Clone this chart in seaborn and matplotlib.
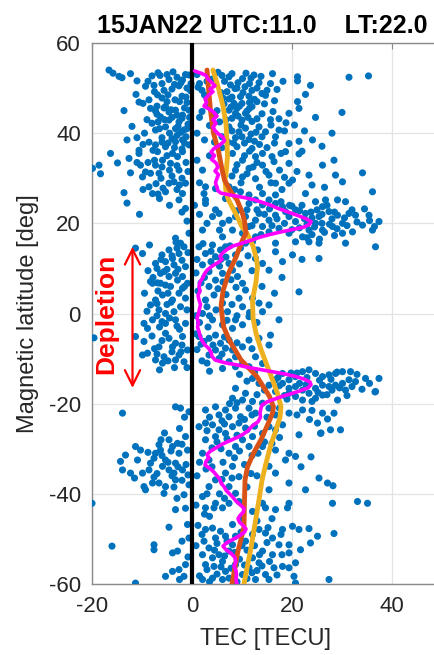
import numpy as np
import pandas as pd
import matplotlib
matplotlib.use("Agg")
import matplotlib.pyplot as plt
import seaborn as sns

# ---------------- data (TEC [TECU], magnetic latitude [deg]) ----------------
band_54_46 = [(-16.6,54.0),(-15.8,53.3),(-14.6,52.6),(-14.0,52.3),(-12.3,53.2),(-11.0,51.6),(-13.6,45.0),(-10.6,46.9),
    (-9.3,50.4),(-8.0,52.7),(-7.6,50.6),(-6.4,52.8),(-6.9,48.5),(-5.6,49.5),(-4.6,51.9),(-4.0,49.8),(-3.0,52.4),(-2.6,50.5),
    (-1.9,51.8),(-1.3,53.0),(-0.6,52.9),(-2.0,48.2),(-3.4,47.4),(-5.0,47.0),(-8.6,47.4),(-9.8,46.6),(-7.0,46.0),(-1.0,46.8),
    (-0.3,49.4),(-4.2,45.2),(1.5,51.0),(2.5,48.5),(7.4,52.5),(10.1,52.1),(7.7,50.7),(12.4,52.9),(13.4,51.2),(15.7,51.0),
    (16.1,53.2),(21.1,52.5),(21.1,51.6),(23.7,50.6),(31.4,52.4),(35.3,52.7),(8.6,49.9),(10.6,50.3),(12.0,49.5),(9.7,48.1),
    (11.4,48.2),(14.0,48.8),(14.7,48.4),(10.0,46.6),(12.0,45.9),(8.4,46.6),(7.4,47.6),(5.8,49.0),(6.4,46.5),(22.7,48.6),
    (21.1,47.0),(21.4,45.5),(17.0,49.7),(13.0,47.0),(11.0,44.9),(9.0,45.5),(4.0,52.0),(5.2,53.5),
    (-6.0,51.0),(-5.0,53.0),(-3.5,50.8),(-1.0,50.0),(1.0,53.0),(2.0,49.5),(6.5,51.5),(8.0,53.2),(9.2,51.2),(11.5,51.0),
    (13.0,50.0),(15.0,49.5),(8.0,48.0),(6.2,47.8),(12.5,47.5),(-2.5,47.0),(-6.0,47.8),(-7.5,49.2),(-1.5,45.6),(10.8,53.3),
    (16.5,47.2),(18.2,51.5),(-11.2,48.6),(-5.3,45.9),
    (-3.8,53.6),(-2.2,51.2),(-0.2,51.0),(1.2,50.2),(3.0,51.5),(6.0,52.8),(9.0,50.0),(11.8,52.2),(13.8,52.6),(7.0,49.2),
    (10.2,49.0),(-6.8,53.4),(-8.8,51.5),(-4.8,48.5),(-1.2,48.0),(14.5,46.5),(11.5,46.8),(7.8,45.8)]

band_46_36 = [(-8.3,45.5),(-7.3,44.9),(-5.6,45.6),(-4.6,44.7),(-3.3,45.1),(-1.9,44.0),(-0.6,45.1),(-6.3,43.6),(-4.6,42.9),
    (-2.6,42.5),(-5.3,41.4),(-3.3,41.0),(-1.6,40.7),(-8.0,42.2),(-7.3,40.7),(-3.0,39.5),(-8.6,38.0),(-10.6,36.2),(-7.3,37.4),
    (-5.3,37.0),(-3.3,38.1),(-1.9,38.5),(-0.6,37.4),(-11.0,39.0),(-13.0,38.5),(-9.5,40.0),(-6.0,39.0),(-2.0,36.5),(-12.0,41.5),
    (-0.8,42.0),(7.4,45.1),(8.7,44.4),(10.7,44.4),(8.0,43.3),(10.0,42.9),(12.0,42.6),(14.0,44.3),(15.7,43.0),(17.4,43.2),
    (13.4,41.4),(10.7,41.1),(9.4,40.3),(14.7,40.3),(17.4,40.7),(19.4,44.4),(24.7,43.5),(30.0,44.6),(7.4,41.4),(6.0,39.2),
    (8.7,39.0),(11.4,38.6),(14.0,39.2),(16.7,39.2),(19.4,37.7),(21.4,38.2),(24.1,38.5),(26.0,37.1),(3.5,41.7),(2.5,38.5),
    (4.5,44.0),(6.0,36.8),(9.0,37.0),(12.0,36.6),(15.0,36.8),(17.8,35.5),(22.0,36.0),(28.0,40.0),(3.0,46.0),(1.5,43.5),
    (5.5,42.5),(-4.0,43.5),(-2.0,43.3),(-6.8,42.5),(-1.0,41.0),(-4.5,40.0),(-2.2,40.2),(-6.0,38.0),(-4.0,38.8),(-1.2,39.2),
    (-9.0,43.0),(1.0,40.0),(2.0,44.8),(4.5,38.0),(6.8,43.0),(9.2,43.8),(11.2,43.5),(12.8,40.2),(11.8,39.8),(8.3,37.8),
    (10.5,37.8),(13.5,37.5),(15.8,41.8),(16.5,37.8),(18.5,40.5),(20.5,41.8),(22.5,40.5),(5.0,45.0),(9.5,46.0),(-3.5,36.8),
    (-7.8,36.2),
    (-7.0,44.2),(-5.5,43.0),(-3.0,44.0),(-2.8,41.5),(-6.5,41.0),(-0.5,43.5),(-1.5,37.8),(-4.8,37.8),(-9.8,37.5),(8.0,40.5),
    (10.0,39.2),(12.5,38.2),(13.0,43.2),(16.2,44.8),(7.2,38.0),(9.8,41.8),(11.5,45.5),(18.8,42.3)]

band_36_26 = [(-19.9,32.2),(-18.6,32.9),(-18.3,31.0),(-16.3,35.5),(-14.9,33.4),(-12.6,34.4),(-12.3,31.2),(-13.6,26.8),
    (-10.6,35.5),(-10.3,32.9),(-9.9,30.3),(-9.3,31.4),(-8.3,31.1),(-8.6,28.1),(-7.9,26.6),(-7.3,32.9),(-6.6,31.1),(-5.9,34.0),
    (-5.3,27.0),(-4.3,33.3),(-3.6,29.2),(-2.6,31.8),(-1.9,26.6),(-1.3,28.9),(-3.9,35.5),(-6.9,35.9),(-1.9,35.9),(-2.9,34.8),
    (-4.6,28.9),(-2.6,25.2),(-1.3,23.3),(8.1,35.5),(10.1,34.0),(12.7,34.8),(14.1,35.5),(18.7,35.9),(21.4,35.4),(8.7,31.8),
    (11.4,32.2),(14.1,32.9),(16.4,33.7),(19.4,33.3),(26.1,32.9),(28.4,34.0),(34.1,31.2),(10.1,30.3),(12.7,29.9),(15.4,30.7),
    (20.1,29.6),(23.4,30.7),(28.7,30.7),(30.1,29.2),(36.1,27.0),(7.4,28.1),(9.7,27.0),(11.4,26.3),(14.1,26.6),(16.7,26.3),
    (19.4,28.9),(22.7,26.6),(16.7,28.9),(2.7,28.1),(2.1,31.8),(2.7,25.2),
    (-11.0,33.5),(-7.5,34.0),(-5.0,35.0),(-3.0,32.8),(-1.2,33.5),(-6.2,30.0),(-4.0,30.5),(-2.0,30.0),(-0.8,31.5),(-7.2,28.8),
    (-5.8,27.8),(-3.0,27.5),(-9.8,27.5),(1.0,34.0),(1.5,29.0),(9.0,33.0),(11.0,31.0),(13.0,33.5),(14.8,31.5),(17.5,31.8),
    (9.8,29.0),(13.5,28.0),(18.0,27.5),(21.0,31.5),(24.0,28.5),(26.5,28.0),(11.5,36.0),(16.0,34.8),(3.5,35.0),(8.5,27.5),
    (-8.8,33.5),(-6.0,32.5),(-4.5,31.8),(-2.5,28.5),(-6.8,26.5),(10.5,35.0),(12.2,32.5),(15.8,29.0),(18.5,30.2),(8.0,30.5)]

band_26_16 = [(2.7,24.4),(4.7,23.0),(5.4,22.2),(7.4,20.7),(6.1,20.0),(8.7,21.5),(11.4,24.4),(12.7,25.2),(14.1,24.1),
    (15.4,25.2),(16.7,24.4),(18.1,23.7),(10.7,21.5),(12.7,20.7),(13.4,22.2),(15.4,20.7),(16.7,21.8),(18.7,22.6),(20.7,23.0),
    (22.7,22.2),(24.7,24.8),(26.7,25.2),(29.1,25.2),(30.7,24.8),(25.4,21.5),(27.4,22.6),(29.1,21.8),(31.4,22.2),(32.7,21.8),
    (35.4,21.8),(37.4,20.4),(34.1,19.6),(30.1,20.0),(28.1,19.3),(26.1,18.5),(24.7,20.0),(23.4,18.5),(22.1,17.0),(19.4,17.8),
    (17.4,18.9),(15.4,18.1),(12.7,17.0),(10.1,17.8),(8.1,18.5),(6.1,17.0),(30.1,17.8),(32.1,18.1),(36.1,18.5),(26.1,23.7),
    (20.7,20.4),(19.4,21.5),(14.1,19.3),(11.4,19.3),(4.1,21.5),(2.1,18.5),(-3.3,16.7),(-0.6,17.8),(6.7,25.5),(2.4,26.6),
    (4.7,27.7),(21.5,19.0),(23.0,19.8),(24.5,19.2),(26.0,20.0),(27.5,19.8),(29.0,18.8),(31.0,19.5),(33.0,20.3),(35.5,20.6),
    (36.5,19.3),(22.5,21.0),(24.0,21.2),(28.0,21.0),(30.5,21.2),(32.0,23.0),(34.5,23.2),(26.5,18.0),(28.5,17.3),(24.0,17.5),
    (20.0,18.6),(18.5,20.0),(17.0,21.0),(16.0,19.5),(14.5,22.0),(13.0,23.0),(20.0,23.8),(22.0,24.0),(25.0,23.0),(27.0,24.0),
    (-4.5,24.0),(-2.0,22.5),(-6.5,25.5),(-1.0,20.5),(0.5,24.0),(3.0,20.0),(1.5,22.0),(5.5,18.5),(9.0,22.8),(11.0,23.0),
    (12.0,19.5),(13.8,17.5),(15.5,23.2),(17.8,24.8),(19.5,24.0),(21.5,22.8),(23.8,22.5),(26.0,22.0),(28.5,22.5),(23.0,16.8),
    (25.5,16.5),(-10.5,22.0),(-13.0,24.5)]

band_16_m4 = [(-11.3,14.5),(-9.9,13.3),(-8.3,7.1),(-7.9,6.7),(-6.9,6.8),(-6.3,6.7),(-5.3,6.3),(-4.3,6.0),(-5.3,11.5),
    (-3.6,10.8),(-4.6,14.1),(-2.6,13.3),(-1.6,14.8),(-2.3,15.6),(-3.3,8.9),(-1.9,8.2),(-1.3,10.4),(-2.6,4.5),(-3.9,3.0),
    (-7.3,3.0),(-8.3,1.9),(-6.6,0.8),(-5.3,0.0),(-3.6,0.4),(-2.3,1.5),(-1.3,3.4),(-5.9,4.1),(-7.9,-1.4),(-9.6,-2.2),(-8.9,-3.3),
    (-5.3,-2.2),(-3.3,-1.4),(-1.3,-2.2),(-0.9,6.7),(-4.6,8.2),(-6.3,8.9),(-7.3,11.1),(-5.6,9.3),(-3.9,12.2),(-2.9,7.4),
    (-1.9,5.6),(1.4,14.8),(2.7,13.3),(4.1,15.2),(4.7,12.6),(5.7,14.1),(6.7,14.8),(7.4,11.1),(8.7,13.0),(9.7,14.5),(10.7,15.6),
    (12.1,15.9),(8.1,9.6),(9.1,8.2),(10.1,6.7),(10.7,5.2),(12.1,3.4),(13.4,2.3),(14.1,0.4),(15.4,1.9),(17.4,-1.4),(9.4,3.4),
    (10.1,1.5),(11.4,-0.7),(8.7,-1.4),(7.1,0.4),(6.1,2.3),(4.4,4.1),(3.4,6.0),(4.7,7.4),(6.1,8.9),(3.4,9.3),(2.7,3.0),(2.1,0.0),
    (4.1,-1.4),(6.1,-2.5),(8.1,-3.3),(10.1,-2.5),(2.1,10.8),(16.7,13.7),(18.1,11.5),(20.1,13.0),(21.4,4.8),(25.4,12.2),
    (15.4,9.6),(14.1,11.1),(16.7,15.6),(20.7,15.9),(23.4,15.9),(30.7,15.6),(36.7,14.8),(25.4,15.6),(12.7,12.2),(13.1,14.1),
    (-6.0,13.0),(-4.0,12.8),(-7.0,10.0),(-5.0,9.8),(-2.0,11.8),(-0.8,13.5),(-6.8,5.0),(-4.8,4.5),(-1.5,6.0),(-7.0,2.2),
    (-5.0,2.0),(-1.0,0.8),(-4.5,-1.0),(-7.0,-0.5),(-2.5,-3.5),(-6.5,-3.0),(-9.0,0.5),(-9.5,4.5),(-8.8,9.5),(1.0,12.0),
    (2.5,8.0),(3.8,11.5),(5.5,10.5),(6.8,12.5),(7.8,7.5),(5.2,5.5),(6.8,4.2),(8.0,2.0),(3.0,1.5),(4.8,0.8),(1.5,-2.0),
    (3.2,-3.0),(9.5,11.0),(11.2,12.8),(12.0,9.5),(14.0,6.0),(16.5,4.5),(11.5,0.2),(13.0,-2.0),(9.0,-0.5),(1.2,5.0),(2.2,15.5),
    (-3.2,15.8),(-8.5,15.2),(0.8,-0.5),(18.0,8.0),(22.0,12.0),(-19.6,-5.4),
    (-6.2,12.0),(-3.0,14.5),(-7.8,8.0),(-2.8,9.8),(-4.2,2.5),(-6.0,-1.8),(-3.0,-2.8),(1.8,6.8),(3.8,13.8),(5.8,12.0),
    (7.6,15.0),(8.8,5.8),(6.2,7.0),(3.5,-0.5),(7.0,-1.5),(0.8,9.0)]

band_m4_m24 = [(-11.3,-5.1),(-9.6,-6.2),(-9.9,-9.2),(-8.9,-8.8),(-7.3,-10.3),(-5.6,-9.6),(-6.6,-7.4),(-4.6,-5.5),(-3.9,-7.4),
    (-3.3,-6.6),(-2.6,-9.2),(-1.6,-10.7),(-0.9,-8.1),(-5.3,-4.4),(-1.9,-5.1),(-3.3,-10.3),(-5.9,-11.0),(-13.9,-22.1),
    (-3.3,-20.7),(-2.3,-21.0),(-0.6,-21.8),(1.4,-5.1),(2.4,-6.2),(3.4,-5.5),(4.7,-4.8),(5.7,-6.6),(6.7,-7.7),(7.4,-5.9),
    (4.7,-8.1),(3.4,-9.2),(5.4,-10.0),(7.4,-10.7),(8.7,-9.6),(10.1,-11.1),(8.1,-8.1),(10.1,-7.4),(11.4,-5.9),(13.4,-5.5),
    (15.4,-7.0),(15.7,-4.8),(12.7,-9.6),(14.1,-11.1),(11.4,-11.8),(8.7,-11.8),(6.1,-12.2),(18.1,-13.3),(19.4,-14.7),
    (20.7,-14.0),(22.1,-12.9),(23.4,-12.5),(24.7,-13.3),(26.1,-14.0),(27.4,-13.6),(28.7,-13.3),(30.1,-12.9),(31.7,-12.9),
    (32.7,-15.1),(34.7,-14.4),(37.4,-14.4),(36.7,-17.3),(31.4,-14.7),(30.1,-15.5),(28.7,-15.9),(27.4,-16.2),(26.1,-15.9),
    (24.7,-16.6),(23.4,-17.7),(22.1,-17.0),(20.7,-16.2),(19.4,-16.6),(18.1,-15.5),(16.7,-14.7),(15.4,-15.9),(26.1,-18.1),
    (24.7,-18.8),(29.1,-19.2),(30.7,-17.0),(22.1,-19.2),(20.7,-18.4),(19.4,-17.7),(16.7,-17.3),(10.7,-17.7),(8.7,-16.6),
    (8.1,-18.8),(10.1,-19.2),(12.1,-19.5),(14.1,-19.9),(15.4,-21.0),(11.4,-21.0),(8.7,-21.0),(6.7,-21.4),(5.4,-22.5),
    (7.4,-22.9),(9.7,-22.9),(12.7,-22.1),(19.4,-22.1),(22.1,-21.4),(26.1,-22.1),(4.7,-20.7),(2.7,-21.4),(16.7,-22.5),
    (13.4,-15.5),(12.1,-14.4),(21.0,-13.2),(23.0,-14.2),(25.5,-14.8),(27.8,-14.6),(29.5,-16.5),(32.0,-16.2),(34.0,-16.8),
    (33.0,-13.5),(35.5,-15.5),(19.0,-19.0),(21.5,-15.5),(17.5,-16.0),(24.0,-19.5),(27.0,-18.0),(29.0,-13.0),(36.6,-17.4),
    (-8.0,-5.0),(-6.0,-6.0),(-4.0,-8.5),(-2.0,-7.0),(-7.5,-7.8),(-1.0,-12.0),(-3.5,-12.0),(-6.5,-12.5),(1.0,-8.0),
    (2.0,-10.5),(3.5,-12.8),(0.8,-4.5),(6.0,-9.0),(9.5,-13.5),(11.0,-15.0),(12.5,-13.0),(14.5,-17.0),(9.0,-19.8),
    (12.0,-22.5),(15.0,-23.0),(17.5,-21.0),(21.0,-22.5),(24.0,-21.5),(23.5,-23.5),(3.5,-23.0),(6.0,-23.8),(-1.5,-23.0),
    (28.4,-22.1),(27.1,-23.4),
    (-7.0,-9.0),(-4.8,-10.5),(-2.2,-8.5),(1.8,-6.8),(4.2,-7.0),(6.5,-5.2),(9.0,-6.5),(12.0,-7.8),(3.0,-11.0),(17.2,-14.2),
    (19.8,-13.2),(22.8,-15.8),(25.2,-17.5),(28.0,-17.0),(31.0,-18.2),(18.5,-18.2),(13.0,-18.0),(10.5,-23.5),(7.5,-20.0)]

band_m24_m44 = [(-20.0,-42.1),(-13.9,-34.7),(-14.3,-32.8),(-13.3,-31.4),(-12.3,-35.4),(-11.3,-29.5),(-10.3,-30.3),(-9.6,-38.4),
    (-9.3,-39.1),(-8.3,-33.2),(-7.6,-32.1),(-7.3,-31.0),(-6.6,-29.1),(-6.3,-30.3),(-5.9,-33.9),(-5.3,-32.5),(-4.6,-34.7),
    (-3.9,-29.5),(-3.6,-35.4),(-3.3,-33.2),(-2.6,-31.0),(-1.9,-34.7),(-1.3,-27.3),(-0.9,-30.3),(-5.3,-38.4),(-6.6,-37.6),
    (-7.9,-37.6),(-5.6,-39.9),(-1.6,-40.2),(-0.6,-38.0),(-1.3,-43.2),(-3.3,-36.9),(-8.6,-34.7),(-9.9,-35.4),(-10.9,-32.5),
    (-4.6,-28.0),(-2.9,-28.8),(1.4,-25.1),(2.7,-24.3),(4.1,-24.7),(5.4,-25.8),(4.7,-27.3),(6.7,-26.6),(8.1,-25.1),(9.4,-24.3),
    (10.7,-25.4),(2.7,-28.0),(2.1,-31.0),(3.4,-32.5),(7.4,-31.0),(8.7,-29.5),(10.1,-28.0),(11.4,-29.5),(8.1,-33.9),(6.7,-35.4),
    (9.4,-36.2),(7.4,-38.4),(8.7,-39.9),(4.7,-36.9),(3.4,-38.4),(2.1,-40.6),(4.7,-42.1),(7.4,-42.1),(9.4,-41.7),(12.1,-27.3),
    (14.1,-26.6),(15.4,-25.1),(16.7,-25.8),(18.1,-24.7),(14.1,-29.5),(16.7,-30.3),(19.4,-31.0),(20.7,-31.7),(15.4,-33.9),
    (16.7,-35.4),(19.4,-37.6),(22.7,-39.1),(25.4,-36.5),(27.1,-37.6),(21.4,-26.9),(25.7,-26.6),(27.7,-25.8),(29.7,-25.8),
    (25.1,-24.3),(18.7,-32.5),(15.4,-39.1),(14.1,-42.1),(19.4,-42.1),(28.1,-42.1),(33.1,-41.7),(35.1,-42.1),(28.2,-38.2),
    (23.8,-31.8),(21.8,-34.0),(25.8,-26.5),
    (-7.0,-35.5),(-4.0,-36.0),(-2.0,-37.0),(-6.0,-31.5),(-4.2,-30.5),(-2.0,-29.0),(-8.8,-30.8),(-11.5,-36.5),(-5.5,-26.5),
    (-2.5,-25.5),(-1.2,-33.5),(1.0,-36.0),(2.8,-34.5),(5.8,-30.0),(6.2,-33.0),(4.0,-29.8),(5.5,-40.0),(8.0,-36.5),
    (10.5,-33.5),(12.0,-31.5),(11.0,-38.5),(13.0,-36.0),(14.5,-28.5),(17.5,-27.5),(12.5,-25.0),(6.5,-24.5),(0.8,-42.5),
    (-3.0,-41.0),(3.0,-26.0),(9.0,-27.0),
    (-6.2,-28.0),(-4.8,-33.0),(-2.8,-34.0),(-7.6,-36.3),(-0.8,-35.8),(-3.6,-38.5),(1.5,-33.0),(4.0,-34.0),(6.0,-36.8),
    (8.5,-32.0),(9.5,-30.5),(11.8,-35.5),(5.0,-28.5),(7.0,-27.8),(3.0,-40.0),(6.5,-41.0),(13.2,-31.0),(16.0,-28.8),(11.0,-25.8)]

band_m44_m60 = [(-16.0,-51.6),(-11.3,-59.8),(-7.6,-51.3),(-7.6,-52.4),(-4.6,-47.4),(-3.3,-43.5),(-5.3,-58.3),(-3.9,-53.1),
    (-2.9,-52.7),(-2.6,-56.8),(-1.6,-58.3),(-0.9,-46.8),(-0.6,-49.8),(-1.3,-55.7),(-3.9,-57.2),(2.7,-43.1),(4.4,-43.1),
    (6.1,-43.1),(2.7,-47.9),(4.1,-47.6),(5.7,-48.3),(6.7,-49.4),(4.7,-49.8),(2.4,-50.5),(3.4,-52.0),(2.1,-53.5),(4.1,-54.2),
    (5.4,-53.5),(2.7,-55.7),(4.4,-56.1),(6.1,-55.0),(7.4,-52.7),(8.1,-51.3),(8.7,-49.4),(10.7,-50.5),(12.1,-49.0),
    (13.4,-47.9),(14.7,-48.7),(16.1,-49.8),(18.1,-47.9),(20.1,-47.2),(21.4,-47.9),(23.4,-47.7),(25.1,-49.4),(28.4,-48.8),
    (23.7,-50.9),(21.7,-52.4),(19.4,-53.1),(20.7,-55.3),(19.4,-56.4),(18.1,-56.1),(16.4,-56.4),(14.7,-57.9),(13.4,-55.3),
    (12.1,-54.2),(14.1,-52.7),(16.1,-53.5),(11.4,-56.4),(10.1,-57.9),(12.7,-59.0),(15.4,-59.0),(7.4,-58.7),(6.1,-59.0),
    (4.1,-58.7),(2.1,-59.0),(8.7,-55.7),(6.7,-57.2),(20.4,-58.3),(20.7,-59.8),(27.4,-59.0),(19.4,-51.3),(17.4,-51.3),
    (8.1,-46.8),(10.1,-45.4),(12.1,-43.9),(14.7,-43.1),(16.7,-43.5),(19.1,-43.1),
    (3.5,-45.0),(1.2,-47.0),(5.0,-51.0),(7.0,-50.5),(3.0,-56.8),(5.0,-57.8),(7.8,-56.5),(9.5,-54.5),(11.0,-52.5),
    (12.5,-51.5),(13.5,-53.5),(15.5,-55.0),(17.0,-58.0),(11.0,-58.8),(9.0,-59.5),(13.0,-57.0),(15.0,-50.8),(18.0,-53.5),
    (1.5,-58.2),(0.8,-51.5),(2.5,-44.5),(-2.0,-50.5),(16.0,-45.5),(13.0,-46.0),
    (2.0,-49.0),(4.5,-52.5),(6.5,-53.8),(8.5,-53.0),(10.0,-51.5),(10.5,-55.8),(12.0,-57.5),(14.0,-56.0),(3.5,-59.5),
    (5.8,-56.2),(17.8,-49.0),(15.2,-47.5),(9.8,-48.5),(-2.5,-59.0),(-0.8,-54.0)]

# magenta running curve
mag_lat = [53.8,53.3,52.8,52.0,51.2,50.5,49.8,49.2,48.5,47.6,46.8,46.0,45.3,44.6,43.8,43.0,42.2,41.3,40.6,39.9,39.1,38.3,
    37.4,36.6,35.8,35.0,34.2,33.4,32.5,31.6,30.8,30.0,29.0,28.0,27.2,26.7,26.2,25.7,25.2,24.6,24.0,23.4,22.8,22.2,21.6,21.0,
    20.4,19.8,19.2,18.6,18.1,17.5,16.9,16.3,15.6,14.9,14.2,13.5,12.7,12.0,11.3,10.5,9.6,8.8,8.0,7.0,6.0,5.0,4.0,3.0,2.0,1.0,
    0.0,-1.0,-2.0,-3.0,-4.0,-5.0,-6.0,-7.0,-7.8,-8.6,-9.5,-10.3,-10.9,-11.4,-11.9,-12.4,-12.9,-13.4,-13.9,-14.5,-15.2,-15.8,
    -16.5,-17.2,-17.8,-18.4,-19.0,-19.6,-20.3,-21.0,-22.0,-23.0,-24.0,-25.0,-26.0,-26.8,-27.5,-28.2,-29.0,-29.8,-30.6,-31.3,
    -32.0,-32.8,-33.6,-34.4,-35.2,-36.0,-36.8,-37.6,-38.4,-39.2,-40.0,-40.8,-41.6,-42.4,-43.2,-44.0,-44.8,-45.5,-46.3,-47.0,
    -47.8,-48.5,-49.2,-50.0,-50.8,-51.6,-52.4,-53.2,-54.0,-55.0,-56.0,-57.0,-58.0,-59.0,-60.0]
mag_tec = [0.5,1.8,2.8,3.2,4.0,4.6,3.6,4.2,3.4,2.6,2.9,2.4,3.5,4.4,5.0,4.2,4.8,4.2,4.6,5.2,6.2,6.5,5.6,4.4,3.8,4.5,3.9,4.8,
    5.2,4.6,5.3,5.0,4.7,5.0,5.2,5.8,8.0,10.5,12.5,14.2,15.8,17.0,18.5,20.0,21.5,22.8,23.8,23.5,22.5,20.0,17.8,15.5,13.5,12.0,
    10.0,8.0,7.0,6.2,5.6,6.0,5.2,4.0,3.0,2.5,2.2,1.6,1.4,1.6,1.2,1.4,1.7,1.5,1.3,1.0,1.3,1.1,1.4,1.6,2.0,2.6,3.4,3.8,4.0,4.6,
    6.5,9.0,11.0,13.5,16.0,18.5,20.5,22.3,23.6,23.8,23.2,21.5,19.8,18.0,16.5,15.0,14.0,13.8,13.6,13.7,13.2,12.0,11.2,10.2,
    9.0,7.6,6.0,4.8,3.6,3.0,3.4,2.8,2.6,3.6,4.4,5.0,5.6,5.8,6.4,6.8,7.5,8.2,8.8,9.6,10.4,10.3,9.6,9.2,9.5,10.2,10.8,10.5,9.6,
    8.4,7.0,6.2,6.8,7.8,8.5,8.8,8.4,8.8,8.9,8.8,9.0]

# orange-red smooth curve
red_lat = [54.0,50.0,45.0,40.0,36.0,32.0,29.6,27.0,25.2,22.5,20.5,17.8,16.3,12.5,8.9,5.0,1.5,-2.9,-6.0,-10.3,-14.0,-18.4,
    -20.7,-22.1,-25.0,-28.0,-31.0,-34.0,-37.0,-41.4,-47.3,-53.2,-60.0]
red_tec = [3.0,3.3,3.7,4.3,5.3,6.0,6.5,7.8,9.0,10.0,10.5,10.8,10.1,8.8,7.3,6.2,5.8,6.3,7.5,9.8,13.0,15.5,16.3,16.1,15.0,
    13.8,12.3,11.1,10.6,10.5,10.4,9.1,8.0]

# yellow smooth curve
yel_lat = [54.0,50.0,46.0,42.0,38.0,34.8,31.0,29.6,27.0,25.2,22.0,19.2,17.8,15.0,12.0,10.4,7.0,3.0,-1.0,-4.4,-8.0,-11.8,
    -15.0,-17.7,-20.7,-23.0,-25.8,-29.0,-33.2,-37.0,-40.6,-44.0,-48.0,-52.0,-57.6,-60.0]
yel_tec = [4.2,5.3,6.2,6.8,7.0,7.1,6.8,6.6,6.8,7.3,8.8,10.0,11.0,12.2,12.9,13.1,12.8,12.1,12.2,12.8,13.8,15.1,16.2,17.1,
    17.8,17.6,16.8,15.8,14.8,14.0,13.5,13.0,12.4,11.8,10.8,10.4]

x_ticks = [-20, 0, 20, 40]
y_ticks = [-60, -40, -20, 0, 20, 40, 60]
title_text = "15JAN22 UTC:11.0    LT:22.0"

# ---------------- figure ----------------
sns.set_style("white")
plt.rcParams["font.family"] = ["Liberation Sans", "DejaVu Sans"]

pts = band_54_46 + band_46_36 + band_36_26 + band_26_16 + band_16_m4 + band_m4_m24 + band_m24_m44 + band_m44_m60
df = pd.DataFrame(pts, columns=["tec", "lat"])

fig = plt.figure(figsize=(4.34, 6.55), dpi=100)
ax = fig.add_axes([92 / 434, 1 - 584 / 655, 350 / 434, 541 / 655])

sns.scatterplot(data=df, x="tec", y="lat", ax=ax, s=26, color="#0072BD", edgecolor="none", linewidth=0, zorder=3)
ax.axvline(0, color="black", lw=3, zorder=4)
sns.lineplot(x=yel_tec, y=yel_lat, sort=False, estimator=None, ax=ax, color="#EDB120", lw=3.5, zorder=5)
sns.lineplot(x=red_tec, y=red_lat, sort=False, estimator=None, ax=ax, color="#D95319", lw=3.5, zorder=6)
sns.lineplot(x=mag_tec, y=mag_lat, sort=False, estimator=None, ax=ax, color="#FF00FF", lw=2.6, zorder=7)

ax.set_xlim(-20, 50)
ax.set_ylim(-60, 60)
ax.set_xticks(x_ticks)
ax.set_yticks(y_ticks)
ax.set_xticklabels([str(v) for v in x_ticks])
ax.set_yticklabels([str(v) for v in y_ticks])
ax.grid(True, color="#e3e3e3", lw=0.9, zorder=0)
ax.set_axisbelow(True)
for s in ax.spines.values():
    s.set_color("#8a8a8a")
    s.set_linewidth(1.0)
ax.tick_params(direction="in", length=4, width=0.8, colors="#8a8a8a", labelcolor="#262626",
               labelsize=16, top=True, right=True)
ax.tick_params(axis="x", pad=9)
ax.tick_params(axis="y", pad=8)
ax.set_xlabel("")
ax.set_ylabel("")

fig.text(266 / 434, 1 - 645 / 655, "TEC [TECU]", ha="center", va="baseline", fontsize=17, color="#262626")
fig.text(28.5 / 434, 1 - 313.5 / 655, "Magnetic latitude [deg]", ha="center", va="center", rotation=90,
         fontsize=17, color="#262626")
fig.text(97 / 434, 1 - 33 / 655, title_text, ha="left", va="baseline", fontsize=18, fontweight="bold", color="black")

ax.text(-17.2, 0, "Depletion", rotation=90, ha="center", va="center", color="red", fontsize=19,
        fontweight="bold", zorder=8)
ax.annotate("", xy=(-11.9, 14.8), xytext=(-11.9, -16.5),
            arrowprops=dict(arrowstyle="<->,head_length=1.1,head_width=0.55", color="red", lw=1.6,
                            shrinkA=0, shrinkB=0), zorder=8)

fig.savefig("out.png", dpi=100)
